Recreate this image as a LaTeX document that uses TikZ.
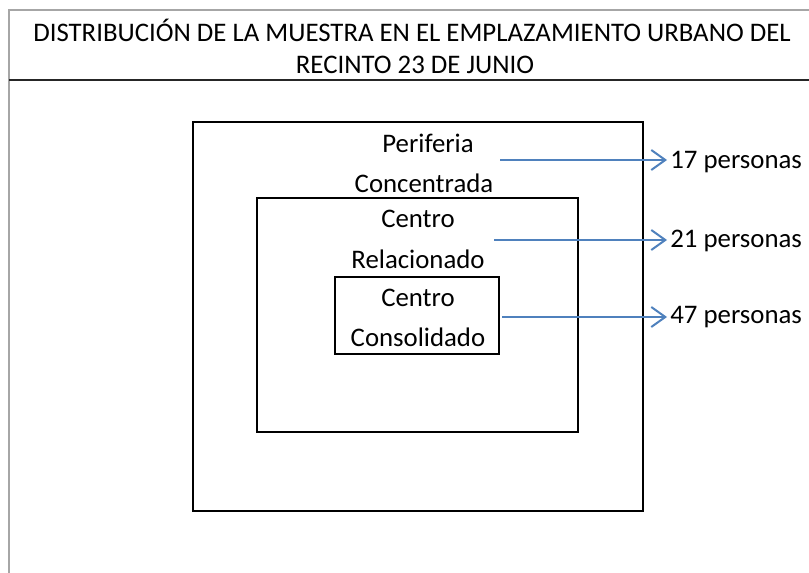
\documentclass[tikz,border=0pt]{standalone}
\usepackage{fontspec}
\setmainfont{Carlito}
\usetikzlibrary{arrows.meta}

\tikzset{
  zona/.style={draw=black, line width=1pt},
  etiqueta/.style={inner sep=0pt, font=\fontsize{13.4}{16}\selectfont},
  flecha/.style={draw=flechaazul, line width=1pt, shorten >=1.5pt, -{Straight Barb[length=7pt, width=10pt, line width=1pt]}},
  marco/.style={draw=gray!70, line width=1pt},
}
\definecolor{flechaazul}{RGB}{79,129,189}

\begin{document}
\begin{tikzpicture}[x=0.5pt, y=-0.5pt]

\useasboundingbox (0, 0) rectangle (809, 573);
%\draw[xstep=50,ystep=50,color=gray!30] (0, 0) grid (809, 573);

% marco de la tabla
\draw[marco] (9, 573) -- (9, 10) -- (809, 10);
\draw[line width=1.4pt, black!85] (9, 80) -- (809, 80);

\node[etiqueta] (titulo1) at (412, 30) {DISTRIBUCIÓN DE LA MUESTRA EN EL EMPLAZAMIENTO URBANO DEL};
\node[etiqueta] (titulo2) at (415, 65) {RECINTO 23 DE JUNIO};

% zonas
\draw[zona] (193, 122) rectangle (643, 511);
\draw[zona] (257, 198) rectangle (578, 432);
\draw[zona] (335, 277) rectangle (499, 354);

\node[etiqueta] (periferia) at (428, 143) {Periferia};
\node[etiqueta] (concentrada) at (424, 183) {Concentrada};
\node[etiqueta] (centroR) at (418, 219) {Centro};
\node[etiqueta] (relacionado) at (418, 259) {Relacionado};
\node[etiqueta] (centroC) at (418, 298) {Centro};
\node[etiqueta] (consolidado) at (418, 337) {Consolidado};

% conteos
\node[etiqueta, anchor=west] (n17) at (670, 162) {17 personas};
\node[etiqueta, anchor=west] (n21) at (670, 241) {21 personas};
\node[etiqueta, anchor=west] (n47) at (670, 317) {47 personas};

\coordinate (a17) at (500, 160);
\coordinate (a21) at (494, 240);
\coordinate (a47) at (502, 317);

\draw[flecha] (a17) -- (a17 -| n17.west);
\draw[flecha] (a21) -- (a21 -| n21.west);
\draw[flecha] (a47) -- (a47 -| n47.west);

\end{tikzpicture}
\end{document}
